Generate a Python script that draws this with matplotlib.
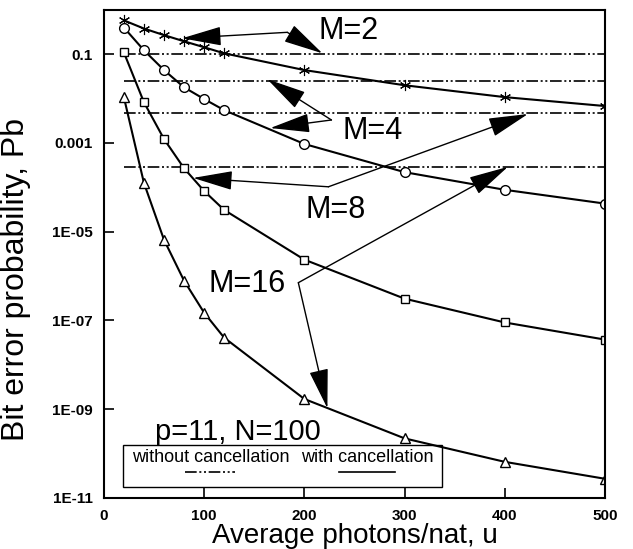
import matplotlib
matplotlib.use("Agg")
import matplotlib.pyplot as plt
from matplotlib.patches import Rectangle
from matplotlib.lines import Line2D
from matplotlib.ticker import NullLocator

plt.rcParams['font.family'] = ['Liberation Sans', 'DejaVu Sans']

# photons/nat
u = [20, 40, 60, 80, 100, 120, 200, 300, 400, 500]

# bit error probability with cancellation
pb_m2 = [0.58, 0.38, 0.27, 0.196, 0.144, 0.105, 0.044, 0.020, 0.0108, 0.0068]
pb_m4 = [0.40, 0.123, 0.044, 0.018, 0.0098, 0.0055, 9.5e-4, 2.2e-4, 8.8e-5, 4.3e-5]
pb_m8 = [0.11, 8.3e-3, 1.23e-3, 2.7e-4, 8.3e-5, 3.1e-5, 2.35e-6, 3.1e-7, 9.0e-8, 3.7e-8]
pb_m16 = [0.0108, 1.26e-4, 6.6e-6, 7.9e-7, 1.5e-7, 4.1e-8, 1.7e-9, 2.2e-10, 6.5e-11, 2.7e-11]

# without cancellation (flat levels for M=2, 4, 8, 16)
no_cancel_levels = [0.1, 0.025, 0.0047, 2.9e-4]
no_cancel_u = [20, 500]

# annotation labels and their arrows
m_labels = ['M=2', 'M=4', 'M=8', 'M=16']
label_pos = [(214, 0.217), (238, 1.23e-3), (201, 2.07e-5), (104, 4.27e-7)]
arrow_from = [(183, 0.312), (227, 3.3e-3), (224, 1.03e-4), (194, 7.1e-7)]
arrow_to = [[(78, 0.229), (218, 0.105)],
            [(163, 0.0274), (166, 2.17e-3)],
            [(89, 1.63e-4), (423, 4.5e-3)],
            [(223, 1.05e-9), (403, 2.9e-4)]]

yticks = [1e-1, 1e-3, 1e-5, 1e-7, 1e-9, 1e-11]
ytick_labels = ['0.1', '0.001', '1E-05', '1E-07', '1E-09', '1E-11']
xticks = [0, 100, 200, 300, 400, 500]

dashdotdot = (0, (7, 1.6, 1.2, 1.6, 1.2, 1.6))

fig = plt.figure(figsize=(6.33, 5.49), dpi=100)
ax = fig.add_axes([0.164, 0.093, 0.792, 0.889])
ax.set_yscale('log')

# without cancellation lines
for lvl in no_cancel_levels:
    ax.plot(no_cancel_u, [lvl, lvl], color='black', lw=1.2, linestyle=dashdotdot)

# with cancellation curves
ax.plot(u, pb_m2, color='black', lw=1.5, marker=(6, 2, 0), ms=8, mew=0.8)
ax.plot(u, pb_m4, color='black', lw=1.5, marker='o', ms=7, mfc='white', mew=1.0)
ax.plot(u, pb_m8, color='black', lw=1.5, marker='s', ms=6, mfc='white', mew=1.0)
ax.plot(u, pb_m16, color='black', lw=1.5, marker='^', ms=7.5, mfc='white', mew=1.0)

# labels with arrows
for lab, pos, src, tips in zip(m_labels, label_pos, arrow_from, arrow_to):
    ax.text(pos[0], pos[1], lab, fontsize=22, ha='left', va='baseline')
    for tip in tips:
        ax.annotate('', xy=tip, xytext=src,
                    arrowprops=dict(arrowstyle='-|>,head_length=1.25,head_width=0.3',
                                    mutation_scale=20, color='black', lw=1.0,
                                    shrinkA=0, shrinkB=0))

ax.text(0.102, 0.119, 'p=11, N=100', transform=ax.transAxes, fontsize=21,
        ha='left', va='baseline')

# legend box
ax.add_patch(Rectangle((0.038, 0.0225), 0.637, 0.0865, transform=ax.transAxes,
                       fill=False, lw=1.0, color='black', zorder=5))
ax.text(0.056, 0.082, 'without cancellation', transform=ax.transAxes,
        fontsize=13, ha='left', va='center')
ax.text(0.394, 0.082, 'with cancellation', transform=ax.transAxes,
        fontsize=13, ha='left', va='center')
ax.add_line(Line2D([0.161, 0.261], [0.053, 0.053], transform=ax.transAxes,
                   color='black', lw=1.2, linestyle=dashdotdot))
ax.add_line(Line2D([0.47, 0.58], [0.053, 0.053], transform=ax.transAxes,
                   color='black', lw=1.2))

ax.set_xlim(0, 500)
ax.set_ylim(1e-11, 1)
ax.set_xticks(xticks)
ax.set_xticklabels([str(t) for t in xticks])
ax.set_yticks(yticks)
ax.set_yticklabels(ytick_labels)
ax.yaxis.set_minor_locator(NullLocator())
ax.tick_params(direction='in', length=7, width=1.2, labelsize=11, pad=8)
for t in ax.get_xticklabels() + ax.get_yticklabels():
    t.set_fontweight('bold')
for sp in ax.spines.values():
    sp.set_linewidth(1.5)

ax.set_xlabel('Average photons/nat, u', fontsize=20)
ax.set_ylabel('Bit error probability, Pb', fontsize=23)
ax.xaxis.set_label_coords(0.5, -0.052)
ax.yaxis.set_label_coords(-0.145, 0.447)

fig.savefig('out.png', dpi=100)
